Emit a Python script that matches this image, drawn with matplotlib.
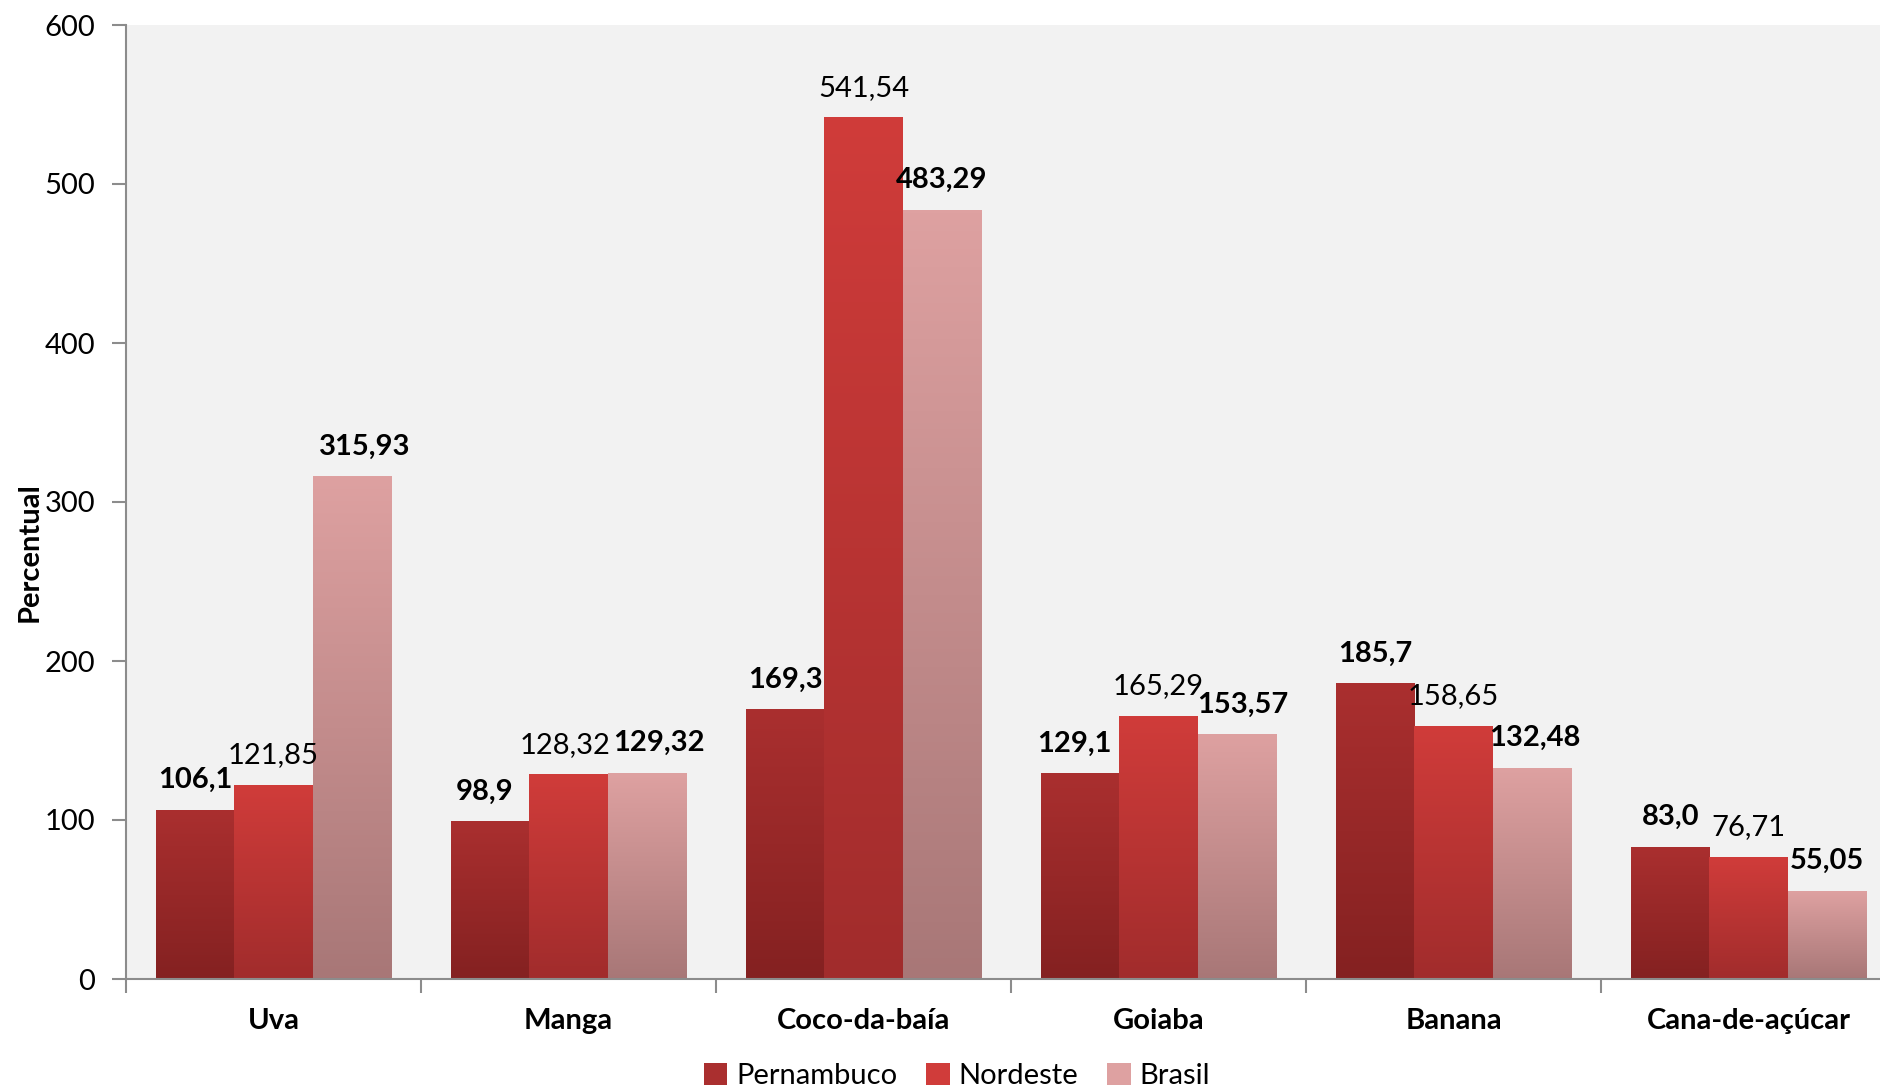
import numpy as np
import matplotlib
matplotlib.use("Agg")
import matplotlib.pyplot as plt
from matplotlib.colors import LinearSegmentedColormap
from matplotlib.patches import Patch

plt.rcParams['font.family'] = ['Lato', 'DejaVu Sans']

culturas = ["Uva", "Manga", "Coco-da-baía", "Goiaba", "Banana", "Cana-de-açúcar"]
series = ["Pernambuco", "Nordeste", "Brasil"]
pernambuco = [106.1, 98.9, 169.3, 129.1, 185.7, 83.0]
nordeste = [121.85, 128.32, 541.54, 165.29, 158.65, 76.71]
brasil = [315.93, 129.32, 483.29, 153.57, 132.48, 55.05]
rotulos = [
    ["106,1", "98,9", "169,3", "129,1", "185,7", "83,0"],
    ["121,85", "128,32", "541,54", "165,29", "158,65", "76,71"],
    ["315,93", "129,32", "483,29", "153,57", "132,48", "55,05"],
]
valores = [pernambuco, nordeste, brasil]

# deslocamento horizontal dos rotulos (fracao da categoria), como no original
desloc = [
    [0, -0.02, 0, -0.02, 0, 0],
    [0, -0.01, 0, 0, 0, 0],
    [0.045, 0.04, 0, 0.02, 0.01, 0],
]

# cores do degrade (topo, base) de cada serie
cores = [("#aa2f2f", "#842121"), ("#d03c3a", "#a12c2c"), ("#dea1a1", "#a87777")]
pesos = ["bold", "normal", "bold"]

fig = plt.figure(figsize=(18.8, 10.88), dpi=100)
ax = fig.add_axes([126/1880, 1 - 979/1088, 1 - 126/1880, (979 - 25)/1088])
ax.set_facecolor("#f2f2f2")

x = np.arange(len(culturas))
larg = 0.265
fs = 21

for i, vals in enumerate(valores):
    barras = ax.bar(x + (i - 1) * larg, vals, larg, color="none", zorder=2)
    cmap = LinearSegmentedColormap.from_list("g%d" % i, [cores[i][1], cores[i][0]])
    grad = np.linspace(0, 1, 256).reshape(-1, 1)
    for j, (b, txt) in enumerate(zip(barras, rotulos[i])):
        x0, w, h = b.get_x(), b.get_width(), b.get_height()
        ax.imshow(grad, extent=[x0, x0 + w, 0, h], origin="lower", aspect="auto",
                  cmap=cmap, zorder=2)
        ax.text(x0 + w / 2 + desloc[i][j], h + 19, txt, ha="center", va="center",
                fontsize=fs, fontweight=pesos[i], color="black", zorder=3)

ax.set_xlim(-0.5, 5.5 - 16/295)
ax.set_ylim(0, 600)
ax.set_yticks(range(0, 601, 100))
ax.set_xticks(x)
ax.set_xticklabels(culturas, fontsize=fs, fontweight="bold")
ax.set_xticks(np.arange(-0.5, 5.5, 1), minor=True)
ax.tick_params(axis="x", which="major", length=0, pad=21)
ax.tick_params(axis="x", which="minor", length=10, width=1.5, color="#8c8c8c")
ax.tick_params(axis="y", length=10, width=1.5, color="#8c8c8c", pad=12, labelsize=fs)

for s in ["top", "right"]:
    ax.spines[s].set_visible(False)
for s in ["left", "bottom"]:
    ax.spines[s].set_color("#8c8c8c")
    ax.spines[s].set_linewidth(1.5)

fig.text(30/1880, 1 - 552/1088, "Percentual", rotation=90, ha="center", va="center",
         fontsize=fs, fontweight="bold")

handles = [Patch(facecolor=c[0], edgecolor="none") for c in cores]
fig.legend(handles, series, loc="center", bbox_to_anchor=(957/1880, 1 - 1076/1088),
           ncol=3, frameon=False, fontsize=fs, handlelength=0.8, handleheight=0.8,
           handletextpad=0.3, columnspacing=1.0)

fig.savefig("out.png", dpi=100)
